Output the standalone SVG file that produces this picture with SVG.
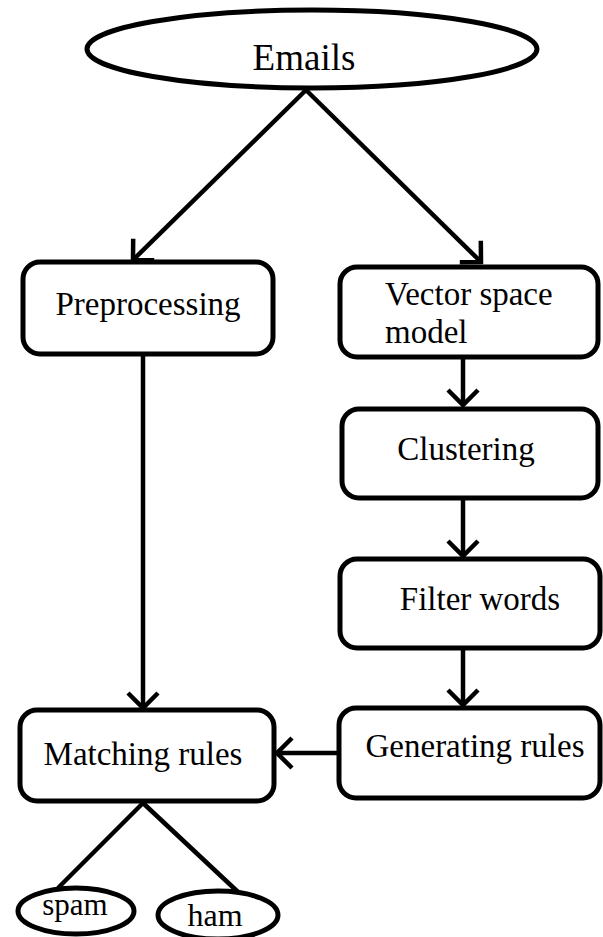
<svg xmlns="http://www.w3.org/2000/svg" width="603" height="937" viewBox="0 0 603 937">
  <style>
    .shape { fill: #fff; stroke: #000; stroke-width: 5; }
    .edge { fill: none; stroke: #000; stroke-width: 4.5; }
    .label { font-family: "Liberation Serif", "Times New Roman", serif; font-size: 33px; fill: #000; }
    .mid { text-anchor: middle; }
  </style>
  <defs>
    <marker id="arrow" markerUnits="userSpaceOnUse" viewBox="-22 -20 26 40" markerWidth="26" markerHeight="40" refX="0" refY="0" orient="auto">
      <path d="M-15,-15 L0,0 L-15,15" fill="none" stroke="#000" stroke-width="4.5" stroke-linecap="butt"/>
    </marker>
  </defs>
  <rect width="603" height="937" fill="#fff"/>

  <!-- connectors -->
  <g id="connectors">
    <line class="edge" x1="306" y1="90" x2="133" y2="260" marker-end="url(#arrow)"/>
    <line class="edge" x1="306" y1="90" x2="481" y2="262" marker-end="url(#arrow)"/>
    <line class="edge" x1="463" y1="359" x2="463" y2="405" marker-end="url(#arrow)"/>
    <line class="edge" x1="463" y1="500" x2="463" y2="556" marker-end="url(#arrow)"/>
    <line class="edge" x1="463" y1="650" x2="463" y2="705" marker-end="url(#arrow)"/>
    <line class="edge" x1="143" y1="356" x2="143" y2="708" marker-end="url(#arrow)"/>
    <line class="edge" x1="337" y1="753" x2="277" y2="753" marker-end="url(#arrow)"/>
    <line class="edge" x1="143" y1="803" x2="58" y2="888"/>
    <line class="edge" x1="143" y1="803" x2="238" y2="892"/>
  </g>

  <!-- nodes -->
  <g id="emails">
    <ellipse class="shape" cx="312" cy="49" rx="225" ry="39"/>
    <text class="label mid" x="304" y="70" style="font-size:37px">Emails</text>
  </g>
  <g id="preprocessing">
    <rect class="shape" x="23" y="262" width="250" height="92" rx="17"/>
    <text class="label mid" x="148" y="315">Preprocessing</text>
  </g>
  <g id="vector-space-model">
    <rect class="shape" x="340" y="267" width="258" height="90" rx="17"/>
    <text class="label" x="385" y="305">Vector space</text>
    <text class="label" x="385" y="343">model</text>
  </g>
  <g id="clustering">
    <rect class="shape" x="342" y="409" width="256" height="89" rx="17"/>
    <text class="label mid" x="466" y="460">Clustering</text>
  </g>
  <g id="filter-words">
    <rect class="shape" x="340" y="559" width="260" height="89" rx="17"/>
    <text class="label mid" x="480" y="610">Filter words</text>
  </g>
  <g id="generating-rules">
    <rect class="shape" x="339" y="708" width="261" height="90" rx="17"/>
    <text class="label mid" x="475" y="757">Generating rules</text>
  </g>
  <g id="matching-rules">
    <rect class="shape" x="20" y="710" width="254" height="91" rx="17"/>
    <text class="label mid" x="143" y="765">Matching rules</text>
  </g>
  <g id="spam">
    <ellipse class="shape" cx="76" cy="911" rx="58" ry="23"/>
    <text class="label mid" x="75" y="915" style="font-size:31px">spam</text>
  </g>
  <g id="ham">
    <ellipse class="shape" cx="218" cy="915" rx="60" ry="24"/>
    <text class="label mid" x="215" y="926" style="font-size:32px">ham</text>
  </g>
</svg>
